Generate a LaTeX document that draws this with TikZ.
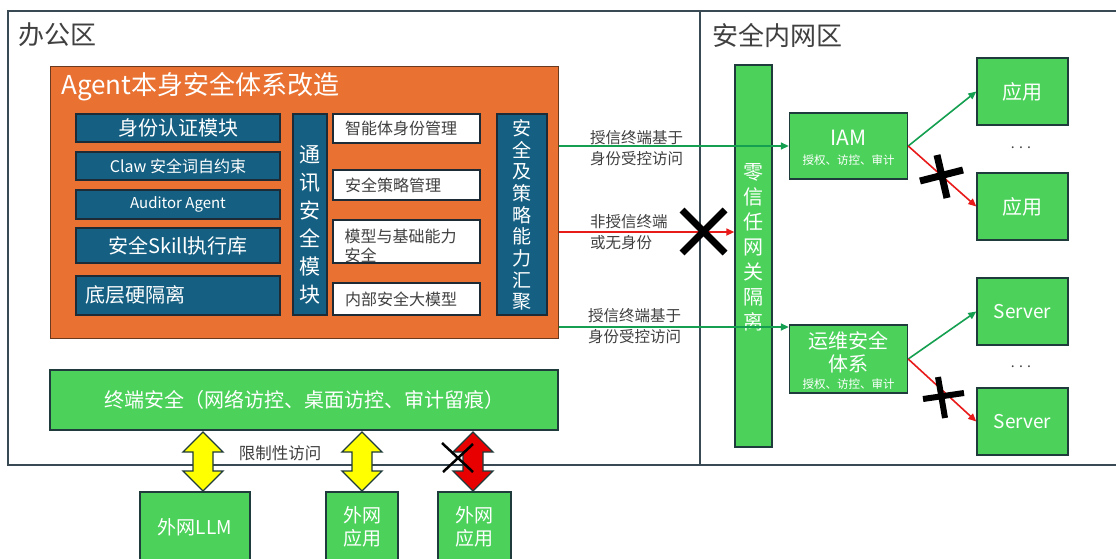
\documentclass[tikz,border=0pt]{standalone}
\usepackage{fontspec}
\setmainfont{Noto Sans CJK SC}
\usetikzlibrary{arrows.meta,calc}
\definecolor{frame}{HTML}{3A4A55}
\definecolor{agorange}{HTML}{E97132}
\definecolor{orbd}{HTML}{6A3A20}
\definecolor{agblue}{HTML}{156082}
\definecolor{bluebd}{HTML}{1C2B35}
\definecolor{ggreen}{HTML}{4CD25B}
\definecolor{greenbd}{HTML}{1F3B3B}
\definecolor{garrow}{HTML}{14A050}
\definecolor{rarrow}{HTML}{E81A1A}
\definecolor{txt}{HTML}{404040}
\definecolor{yel}{HTML}{FFFF00}
\definecolor{redfill}{HTML}{E80000}
\newcommand\fsz[2]{\fontsize{#1}{#2}\selectfont}
\newcommand\dblarr[4]{\filldraw[fill=#4,draw=greenbd,line width=1.3pt,line join=miter]
  (#1,#2) -- ++(20,20) -- ++(-10,0) -- (#1+10,#3-20) -- ++(10,0) -- (#1,#3)
  -- ++(-20,-20) -- ++(10,0) -- (#1-10,#2+20) -- ++(-10,0) -- cycle;}
\begin{document}
\begin{tikzpicture}[x=1pt,y=-1pt,
  bluebox/.style={draw=bluebd, fill=agblue, line width=1.4pt, inner sep=0pt, text=white, align=center},
  whitebox/.style={draw=bluebd, fill=white, line width=1.4pt, inner xsep=12pt, inner ysep=0pt,
     text width=123pt, minimum width=147pt, text=txt, align=left, font=\fsz{16}{19}},
  greenbox/.style={draw=greenbd, fill=ggreen, line width=1.4pt, inner sep=0pt, text=white, align=center},
  intext/.style={text=white, inner sep=0pt, align=center},
  garr/.style={draw=garrow, line width=1.6pt, -{Triangle[length=8pt,width=7pt]}},
  rarr/.style={draw=rarrow, line width=1.6pt, -{Triangle[length=8pt,width=7pt]}},
  lbl/.style={text=txt, font=\fsz{15.5}{20.5}, align=left, inner sep=0pt, anchor=west},
  crossmark/.style={draw=black, line width=7pt},
  dots/.style={text=txt, font=\fsz{14}{16}, inner sep=0pt}]
\useasboundingbox (0,0) rectangle (1116,558);
\fill[white] (0,0) rectangle (1116,558);
% zones
\draw[frame, line width=2pt] (1130,11) -- (8,11) -- (8,465) -- (1130,465);
\draw[frame, line width=2pt] (700,11) -- (700,465);
\node[anchor=west, text=txt, font=\fsz{26}{30}, inner sep=0pt] (zone1) at (18,35) {办公区};
\node[anchor=west, text=txt, font=\fsz{26}{30}, inner sep=0pt] (zone2) at (712,35) {安全内网区};
% orange box
\node[draw=orbd, fill=agorange, line width=1pt, minimum width=508pt, minimum height=272pt, inner sep=0pt] (agent) at (304,202) {};
\node[anchor=west, text=white, font=\fsz{26}{30}, inner sep=0pt] (agtitle) at (61,87) {Agent本身安全体系改造};
% left column
\node[bluebox, minimum width=204pt, minimum height=28pt, font=\fsz{20}{24}] (b1) at (178,128) {身份认证模块};
\node[bluebox, minimum width=204pt, minimum height=28pt, font=\fsz{16}{19}] (b2) at (178,166) {Claw 安全词自约束};
\node[bluebox, minimum width=204pt, minimum height=29pt, font=\fsz{15}{18}] (b3) at (178,204.5) {Auditor Agent};
\node[bluebox, minimum width=204pt, minimum height=35pt, font=\fsz{20}{24}] (b4) at (178,245.5) {安全Skill执行库};
\node[bluebox, minimum width=204pt, minimum height=39pt] (b5) at (178,295.5) {};
\node[intext, anchor=west, font=\fsz{20}{24}] (b5t) at ($(b5.west)+(10,-1)$) {底层硬隔离};
% comm column
\node[bluebox, minimum width=34pt, minimum height=201pt] (comm) at (310,214.5) {};
\node[intext, font=\fsz{21}{28}] (commt) at (310,225) {通\\讯\\安\\全\\模\\块};
% white boxes
\node[whitebox, minimum height=29pt] (w1) at (406.5,128.5) {智能体身份管理};
\node[whitebox, minimum height=30pt] (w2) at (406.5,185) {安全策略管理};
\node[whitebox, minimum height=43pt] (w3) at (406.5,241.5) {};
\node[text=txt, font=\fsz{16}{19}, align=left, inner sep=0pt, anchor=west] (w3t) at ($(w3.west)+(12,4)$) {模型与基础能力\\安全};
\node[whitebox, minimum height=32pt] (w4) at (406.5,299) {内部安全大模型};
% aggregation column
\node[bluebox, minimum width=50pt, minimum height=201pt] (agg) at (522,214.5) {};
\node[intext, font=\fsz{19}{21.7}] (aggt) at (522,215) {安\\全\\及\\策\\略\\能\\力\\汇\\聚};
% terminal security bar
\node[greenbox, minimum width=508pt, minimum height=60pt, font=\fsz{20}{24}] (term) at (304,400) {终端安全（网络访控、桌面访控、审计留痕）};
% gateway
\node[greenbox, minimum width=37pt, minimum height=382pt] (gw) at (753.5,256) {};
\node[intext, font=\fsz{20}{25}] (gwt) at (753.5,247) {零\\信\\任\\网\\关\\隔\\离};
% IAM and ops
\node[greenbox, minimum width=118pt, minimum height=66pt] (iam) at (848.5,146) {};
\node[intext, font=\fsz{21}{24}] (iamt) at (848.5,138) {IAM};
\node[intext, font=\fsz{11.5}{14}] (iams) at (848.5,160) {授权、访控、审计};
\node[greenbox, minimum width=118pt, minimum height=68pt] (ops) at (848.5,359) {};
\node[intext, font=\fsz{20}{23}] (opst) at (848.5,352) {运维安全\\体系};
\node[intext, font=\fsz{11.5}{14}] (opss) at (848.5,384) {授权、访控、审计};
% apps / servers
\node[greenbox, minimum width=91pt, minimum height=67pt, font=\fsz{20}{24}] (app1) at (1022.5,91.5) {应用};
\node[greenbox, minimum width=91pt, minimum height=67pt, font=\fsz{20}{24}] (app2) at (1022.5,206.5) {应用};
\node[greenbox, minimum width=91pt, minimum height=67pt, font=\fsz{19}{24}] (srv1) at (1022.5,311.5) {Server};
\node[greenbox, minimum width=91pt, minimum height=67pt, font=\fsz{19}{24}] (srv2) at (1022.5,421.5) {Server};
\node[dots] (d1) at (1021,148) {. . .};
\node[dots] (d2) at (1021,367) {. . .};
% external boxes
\node[greenbox, minimum width=110pt, minimum height=70pt, font=\fsz{19}{23}] (llm) at (195,527) {外网LLM};
\node[greenbox, minimum width=72pt, minimum height=70pt, font=\fsz{19}{23}] (ext1) at (362,527) {外网\\应用};
\node[greenbox, minimum width=73pt, minimum height=70pt, font=\fsz{19}{23}] (ext2) at (474.5,527) {外网\\应用};
% access arrows left -> right
\coordinate (ybad) at (703,232);
\draw[garr] (agent.east |- iam.west) -- (iam.west);
\draw[rarr] (agent.east |- ybad) -- (gw.west |- ybad);
\coordinate (yops) at (0,327);
\draw[garr] (agent.east |- yops) -- (ops.west |- yops);
\node[lbl] (l1) at (590,148) {授信终端基于\\身份受控访问};
\node[lbl] (l2) at (590,232) {非授信终端\\或无身份};
\node[lbl] (l3) at (588,326) {授信终端基于\\身份受控访问};
% fan out
\draw[garr] (iam.east) -- (app1.west);
\draw[rarr] (iam.east) -- (app2.west);
\draw[garr] (ops.east) -- (srv1.west);
\draw[rarr] (ops.east) -- (srv2.west);
% crosses
\draw[crossmark] (682,210) -- (725,253);
\draw[crossmark] (725,210) -- (682,253);
\draw[crossmark] (920,181) -- (963,170);
\draw[crossmark] (937,155) -- (947,198);
\draw[crossmark, line width=6pt] (923,399) -- (964,393);
\draw[crossmark, line width=6pt] (938,377) -- (945,418);
% external double arrows
\dblarr{203}{432}{491}{yel}
\dblarr{362}{432}{491}{yel}
\dblarr{473}{432}{491}{redfill}
\node[text=txt, font=\fsz{16.5}{20}, inner sep=0pt] (lim) at (280,453) {限制性访问};
\draw[black, line width=2.5pt] (442,443) -- (473,472);
\draw[black, line width=2.5pt] (473,444) -- (443,472);
\end{tikzpicture}
\end{document}
